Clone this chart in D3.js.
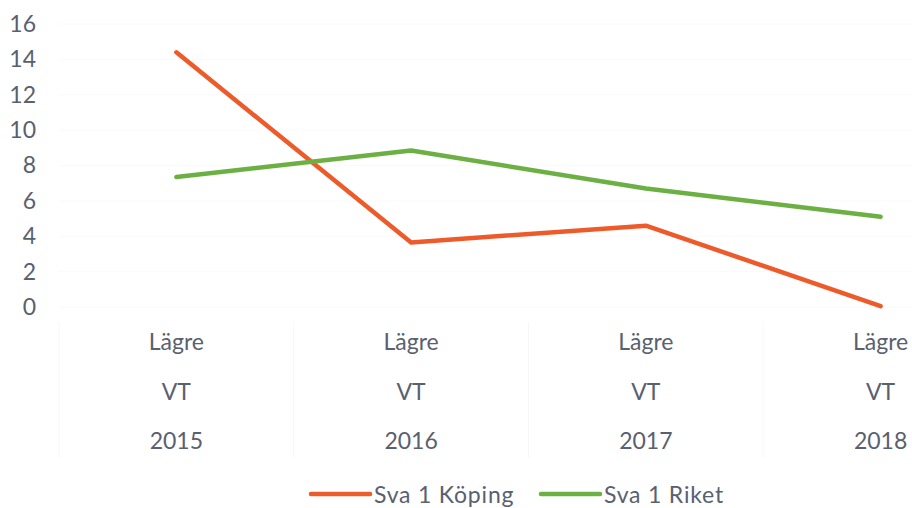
<!DOCTYPE html>
<html>
<head>
<meta charset="utf-8">
<script src="https://cdn.jsdelivr.net/npm/d3@7"></script>
<style>
  html, body { margin: 0; padding: 0; background: #fff; }
  svg { display: block; }
  text { font-family: Lato, "Open Sans", sans-serif; fill: #596070; }
</style>
</head>
<body>
<svg id="chart" width="912" height="508"></svg>
<script>
// Category axis (three label rows per category)
const levels = ["Lägre", "Lägre", "Lägre", "Lägre"];
const terms = ["VT", "VT", "VT", "VT"];
const years = ["2015", "2016", "2017", "2018"];

// Series values
const seriesNames = ["Sva 1 Köping", "Sva 1 Riket"];
const koping = [14.4, 3.65, 4.6, 0.05];
const riket = [7.35, 8.85, 6.7, 5.1];
const yTicks = [0, 2, 4, 6, 8, 10, 12, 14, 16];

const colors = ["#ee5b2b", "#6cb043"];

const svg = d3.select("#chart");

const x = d3.scalePoint()
  .domain(years)
  .range([59, 998])
  .padding(0.5);

const y = d3.scaleLinear()
  .domain([0, 16])
  .range([307, 24]);

// very faint horizontal gridlines
svg.append("g")
  .selectAll("line")
  .data(yTicks)
  .join("line")
  .attr("x1", 59).attr("x2", 912)
  .attr("y1", d => y(d)).attr("y2", d => y(d))
  .attr("stroke", "#fafafa")
  .attr("stroke-width", 1);

// y axis labels
const yAxis = d3.axisLeft(y).tickValues(yTicks).tickSize(0).tickPadding(0);
const yg = svg.append("g")
  .attr("transform", "translate(36,0)")
  .call(yAxis);
yg.select(".domain").remove();
yg.selectAll("text")
  .attr("font-size", 23)
  .attr("font-family", "Lato, 'Open Sans', sans-serif")
  .attr("fill", "#596070");

// category separators in label area
const step = x.step();
svg.append("g")
  .selectAll("line")
  .data(years)
  .join("line")
  .attr("x1", d => x(d) - step / 2).attr("x2", d => x(d) - step / 2)
  .attr("y1", 322).attr("y2", 458)
  .attr("stroke", "#f7f7f7")
  .attr("stroke-width", 1);

// category labels
const rows = [levels, terms, years];
const rowY = [341, 391, 440];
rows.forEach((row, ri) => {
  svg.append("g")
    .selectAll("text")
    .data(years)
    .join("text")
    .attr("x", d => x(d))
    .attr("y", rowY[ri])
    .attr("text-anchor", "middle")
    .attr("dominant-baseline", "central")
    .attr("font-size", 23)
    .text((d, i) => row[i]);
});

// lines
const line = d3.line()
  .x((d, i) => x(years[i]))
  .y(d => y(d));

[koping, riket].forEach((vals, si) => {
  svg.append("path")
    .datum(vals)
    .attr("d", line)
    .attr("fill", "none")
    .attr("stroke", colors[si])
    .attr("stroke-width", 4.5)
    .attr("stroke-linecap", "round")
    .attr("stroke-linejoin", "round");
});

// legend
const legendX = [311, 541];
seriesNames.forEach((name, i) => {
  const g = svg.append("g").attr("transform", `translate(${legendX[i]},494)`);
  g.append("line")
    .attr("x1", 0).attr("x2", 59)
    .attr("y1", 0).attr("y2", 0)
    .attr("stroke", colors[i])
    .attr("stroke-width", 4.5)
    .attr("stroke-linecap", "round");
  g.append("text")
    .attr("x", 63)
    .attr("y", 0)
    .attr("dominant-baseline", "central")
    .attr("font-size", 23)
    .attr("letter-spacing", 0.8)
    .text(name);
});
</script>
</body>
</html>
